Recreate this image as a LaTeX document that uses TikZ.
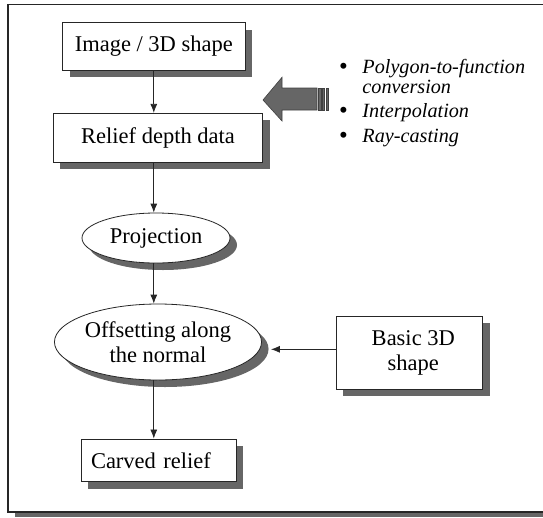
\documentclass[tikz,border=0pt]{standalone}
\usepackage{fontspec}
\setmainfont{Liberation Serif}
\usetikzlibrary{shapes.geometric, shadows, arrows.meta}
\newcommand{\dotmark}{\smash{{\fontsize{25}{20}\selectfont\raisebox{-1pt}{\textbullet}}}}

\begin{document}
\begin{tikzpicture}[x=1pt, y=-1pt,
                    shade/.style={drop shadow={shadow xshift=7pt, shadow yshift=-7pt, fill=black!60, opacity=1}},
                    box/.style={rectangle, draw=black!85, line width=0.8pt, fill=white, shade, inner sep=0pt, font=\fontsize{22.5}{25}\selectfont, align=center},
                    oval/.style={ellipse, draw=black!85, line width=0.8pt, fill=white, shade, inner sep=0pt, font=\fontsize{22.5}{25}\selectfont, align=center},
                    flow/.style={-{Latex[length=9pt, width=7pt]}, line width=0.8pt, black!85}]
                    \useasboundingbox (0, 0) rectangle (543, 517);
                    \fill[black!60] (15, 513) rectangle (543, 517);
                    \draw[line width=1.3pt, black!85] (543, 4.7) -- (8, 4.7) -- (8, 512) -- (543, 512);

                    \node (IMG) [box, minimum width=182.3pt, minimum height=47.3pt] at (153.8, 46.3) {Image / 3D shape};
                    \node (RDD) [box, minimum width=209.4pt, minimum height=49pt] at (158, 137.8) {Relief depth data};
                    \node (PROJ) [oval, minimum width=148pt, minimum height=50pt] at (156, 238) {Projection};
                    \node (OFF) [oval, minimum width=190.6pt, minimum height=76pt] at (158, 342) {Offsetting along\\the normal};
                    \node (B3D) [box, minimum width=146.7pt, minimum height=73.3pt] at (409.3, 352.7) {\hspace*{8pt}Basic 3D\\\hspace*{8pt}shape};
                    \node (CR) [box, minimum width=155pt, minimum height=42.7pt, text width=135pt, align=left] at (158.5, 460.3) {Carved relief};

                    \node (METH) [anchor=base west, inner sep=0pt, font=\fontsize{20.2}{20}\selectfont] at (339, 73)
                        {\begin{tabular}[t]{@{}l@{\hspace{14.5pt}}l@{}}
                            \dotmark & \textit{Polygon-to-function}\\
                                     & \textit{conversion}\\[4pt]
                            \dotmark & \textit{Interpolation}\\[5pt]
                            \dotmark & \textit{Ray-casting}
                        \end{tabular}};

                    \filldraw[fill=black!60, draw=black!75, line width=0.6pt] (263, 100) -- (282, 77.3) -- (282, 88) -- (317, 88) -- (317, 110) -- (282, 110) -- (282, 121) -- cycle;
                    \foreach \bx in {318.5, 322.3, 325.9}
                        \filldraw[fill=black!60, draw=black!75, line width=0.4pt] (\bx, 88) rectangle (\bx + 2.2, 110);

                    \draw (IMG) edge[flow] (IMG |- RDD.north);
                    \draw (RDD.south -| IMG.south) edge[flow] (PROJ.north -| IMG.south);
                    \draw (PROJ.south -| IMG.south) edge[flow] (OFF.north -| IMG.south);
                    \draw (OFF.south -| IMG.south) edge[flow] (CR.north -| IMG.south);
                    \draw ([yshift=3.4pt]B3D.west) edge[flow, shorten >=9pt] ([yshift=3.4pt]B3D.west -| OFF.east);
                \end{tikzpicture}
\end{document}
